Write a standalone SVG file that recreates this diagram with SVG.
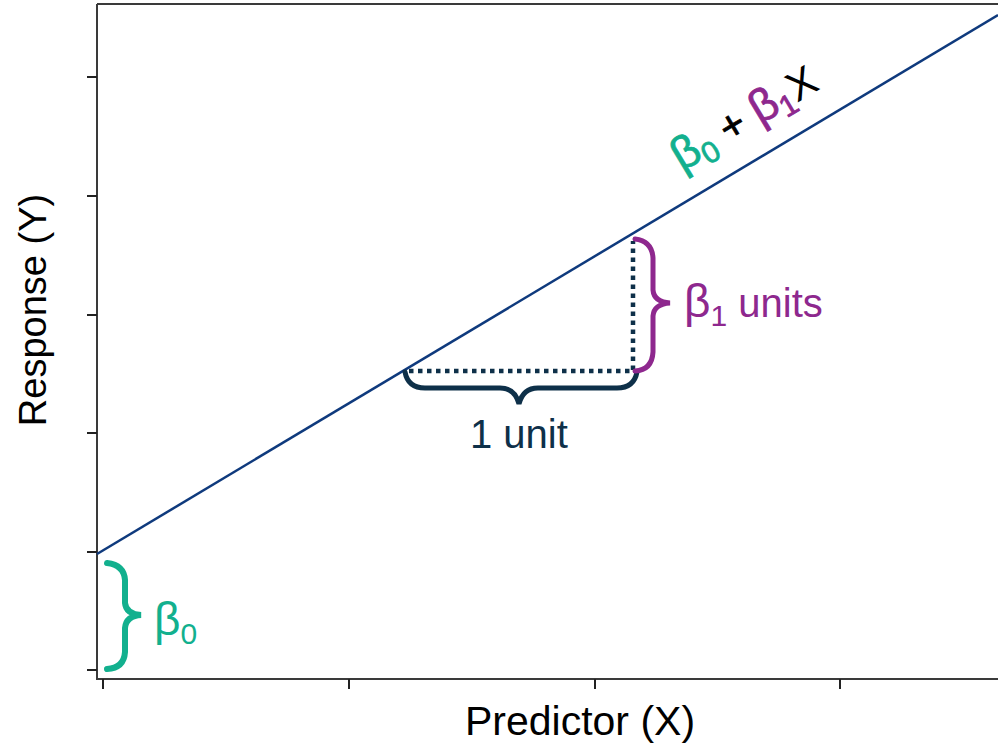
<svg xmlns="http://www.w3.org/2000/svg" width="998" height="746" viewBox="0 0 998 746">
<style>
.ax{stroke:#3a3a3a;stroke-width:2;fill:none}
.tk{stroke:#222;stroke-width:2}
.t{font-family:"Liberation Sans",Arial,sans-serif}
.teal{fill:#12b08e}
.purp{fill:#8e288e}
.navy{fill:#0e3049}
.blk{fill:#000}
.sub{font-size:30px}
.beta{font-size:46px}
</style>
<rect width="998" height="746" fill="#fff"/>
<g id="axes">
<path class="ax" d="M97,4 H998 M97,4 V679 H998"/>
<path class="tk" d="M87,77H97M87,196H97M87,315H97M87,433H97M87,552H97M87,670H97"/>
<path class="tk" d="M103,679V689M349,679V689M595,679V689M840,679V689"/>
<text class="t blk" x="580" y="735" font-size="41" text-anchor="middle">Predictor (X)</text>
<text class="t blk" font-size="38" text-anchor="middle" transform="translate(46,310) rotate(-90)">Response (Y)</text>
</g>
<g id="regression-line">
<line x1="97" y1="554" x2="998" y2="15" stroke="#0f3a7d" stroke-width="2.5"/>
<text class="t" font-size="42" stroke-width="0.8" transform="translate(682,172) rotate(-31)"><tspan class="teal beta" stroke="#12b08e">β</tspan><tspan class="teal sub" stroke="#12b08e" dy="8">0</tspan><tspan class="blk" stroke="#000" dy="-8"> + </tspan><tspan class="purp beta" stroke="#8e288e">β</tspan><tspan class="purp sub" stroke="#8e288e" dy="8">1</tspan><tspan class="blk" dy="-8">X</tspan></text>
</g>
<g id="connectors" fill="none" stroke-linecap="round">
<path d="M409,371 H633 V241" stroke="#0e3049" stroke-width="4.5" stroke-dasharray="4.5 4.5" stroke-linecap="butt"/>
<path d="M405,372 Q408,388 425,388 L500,388 Q515,388 519,404 Q523,388 538,388 L617,388 Q634,388 637,372" stroke="#0e3049" stroke-width="5"/>
<path d="M635,239 Q652,241 653,258 L653,290 Q654,302 670,303 Q654,304 653,316 L653,352 Q652,370 635,371" stroke="#8e288e" stroke-width="5"/>
<path d="M107,563 Q124,565 125,580 L125,603 Q126,614 141,615 Q126,616 125,628 L125,652 Q124,668 107,669" stroke="#12b08e" stroke-width="6"/>
</g>
<g id="label-slope">
<text class="t purp" x="684" y="317" font-size="40"><tspan class="beta">β</tspan><tspan class="sub" dy="9">1</tspan><tspan dy="-9"> units</tspan></text>
</g>
<g id="label-unit">
<text class="t navy" x="470" y="448" font-size="40">1 unit</text>
</g>
<g id="label-intercept">
<text class="t teal" x="154" y="635" font-size="40"><tspan class="beta">β</tspan><tspan class="sub" dy="9">0</tspan></text>
</g>
</svg>
